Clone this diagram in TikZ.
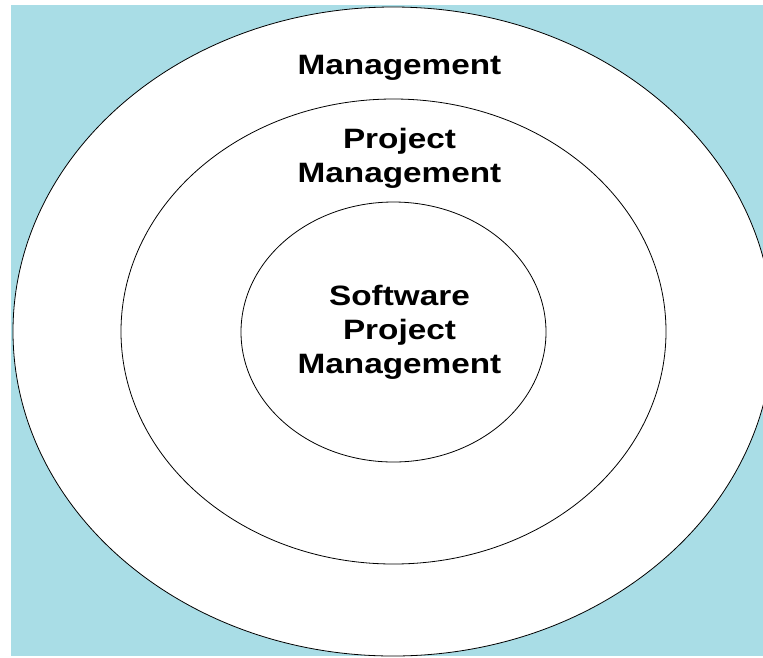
\documentclass[tikz,border=0pt]{standalone}
\usepackage{fontspec}
\setmainfont{Liberation Sans}
\newfontfamily\widesans[FakeStretch=1.19]{Liberation Sans}
\usetikzlibrary{shapes.geometric}
\definecolor{water}{RGB}{169,221,230}
\tikzset{
  ring/.style={draw=black, line width=0.8pt, fill=white, ellipse, inner sep=0pt},
  lbl/.style={font=\widesans\bfseries\fontsize{28}{34}\selectfont, align=center, inner sep=0pt, text=black}
}
\begin{document}
\begin{tikzpicture}[x=1pt,y=-1pt]
\useasboundingbox (0,0) rectangle (763,657);
\clip (0,0) rectangle (763,657);
\fill[water] (11,5) rectangle (763,656);
\node[ring, minimum width=760pt, minimum height=649pt] (outer) at (393,331.5) {};
\node[ring, minimum width=545pt, minimum height=465pt] (middle) at (393.5,331.5) {};
\node[ring, minimum width=305pt, minimum height=260pt] (inner) at (393.5,332) {};
\node[lbl, anchor=base] (mgmt) at (399.5,74) {Management};
\node[lbl, anchor=north] (pm) at (399.5,128) {Project\\Management};
\node[lbl, anchor=north] (spm) at (399.5,285) {Software\\Project\\Management};
\end{tikzpicture}
\end{document}
